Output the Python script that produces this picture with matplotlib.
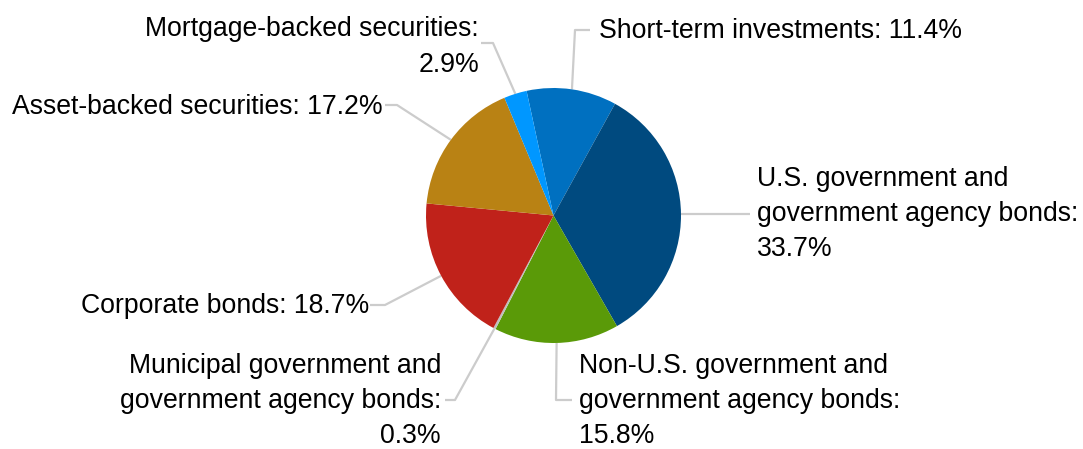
import numpy as np
import matplotlib
matplotlib.use('Agg')
import matplotlib.pyplot as plt

# portfolio breakdown, clockwise from the top
categories = ['Short-term investments',
              'U.S. government and\ngovernment agency bonds',
              'Non-U.S. government and\ngovernment agency bonds',
              'Municipal government and\ngovernment agency bonds',
              'Corporate bonds',
              'Asset-backed securities',
              'Mortgage-backed securities']
shares = [11.4, 33.7, 15.8, 0.3, 18.7, 17.2, 2.9]
colors = ['#0070C0', '#004A7F', '#5A9A08', '#BFBFBF', '#C0221A', '#B98214', '#0097FF']

# label text as drawn (line breaks as in the chart)
labels = ['Short-term investments: 11.4%',
          'U.S. government and\ngovernment agency bonds:\n33.7%',
          'Non-U.S. government and\ngovernment agency bonds:\n15.8%',
          'Municipal government and\ngovernment agency bonds:\n0.3%',
          'Corporate bonds: 18.7%',
          'Asset-backed securities: 17.2%',
          'Mortgage-backed securities:\n2.9%']

W, H = 1083, 449
cx, cy, R = 553.5, H - 215.5, 127.5
start = 102.2

# layout of the labels: (elbow x, elbow y, end x, text x, first baseline, align)
layout = [
    (575, H - 30, 590, 599, H - 38.5, 'left'),
    (None, None, 750, 757, H - 186, 'left'),
    (556, H - 400, 572, 579, H - 373, 'left'),
    (455, H - 400, 445, 441, H - 373, 'right'),
    (385, H - 305, 370, 369, H - 313, 'right'),
    (397, H - 105, 385, 383, H - 114, 'right'),
    (493, H - 43, 481, 479, H - 36.5, 'right'),
]
line_gap = 35

fig = plt.figure(figsize=(W / 100, H / 100), dpi=100)
ax = fig.add_axes([0, 0, 1, 1])
ax.set_xlim(0, W)
ax.set_ylim(0, H)
ax.set_aspect('equal')
ax.axis('off')

wedges, _ = ax.pie(shares, colors=colors, center=(cx, cy), radius=R,
                   startangle=start, counterclock=False,
                   wedgeprops=dict(linewidth=0))
ax.set_xlim(0, W)
ax.set_ylim(0, H)

lc = '#CCCCCC'
for w, lab, (ex, ey, endx, tx, ty, ha) in zip(wedges, labels, layout):
    mid = np.deg2rad((w.theta1 + w.theta2) / 2)
    px, py = cx + R * np.cos(mid), cy + R * np.sin(mid)
    if ex is None:
        xs, ys = [px, endx], [py, py]
    else:
        xs, ys = [px, ex, endx], [py, ey, ey]
    ax.plot(xs, ys, color=lc, lw=1.6, solid_capstyle='butt', zorder=0)
    for i, line in enumerate(lab.split('\n')):
        ax.text(tx, ty - i * line_gap, line, ha=ha, va='baseline',
                fontsize=19.2, family='Liberation Sans', color='#000000')

fig.savefig('out.png', dpi=100)
